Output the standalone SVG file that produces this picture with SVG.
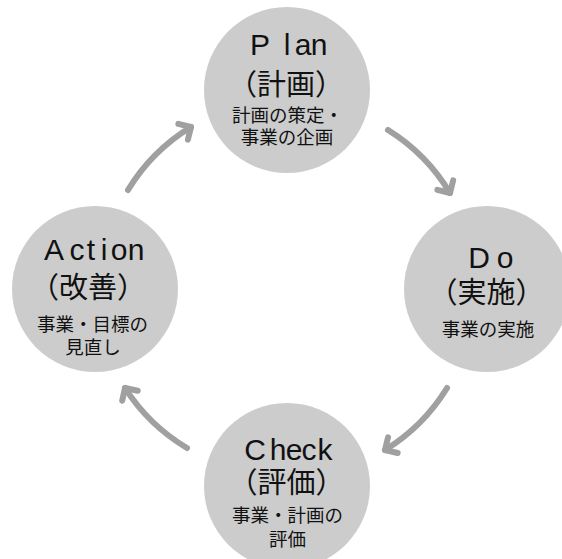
<svg xmlns="http://www.w3.org/2000/svg" width="562" height="559" viewBox="0 0 562 559">
<style>
.node circle{fill:#cccccc}
.t{font-family:"Noto Sans CJK JP","Noto Sans",sans-serif;fill:#111;text-anchor:middle}
.title{font-family:"Liberation Sans","Noto Sans CJK JP",sans-serif;font-size:30px}
.paren{font-size:29px}
.sub{font-size:18.5px}
.arrow{fill:none;stroke:#a0a0a0;stroke-width:6;stroke-linecap:round}
</style>
<defs>
<marker id="ah" markerUnits="userSpaceOnUse" markerWidth="30" markerHeight="30" viewBox="-15 -15 30 30" refX="0" refY="0" orient="auto" overflow="visible">
<path d="M-9.2,-9.2 L0,0 L-9.2,9.2" fill="none" stroke="#a0a0a0" stroke-width="6" stroke-linecap="round" stroke-linejoin="round"/>
</marker>
</defs>
<rect width="562" height="559" fill="#ffffff"/>
<g id="connectors">
<path class="arrow" d="M128,190 A188,188 0 0,1 191,127" marker-end="url(#ah)"/>
<path class="arrow" d="M388,130 A188,188 0 0,1 450,193" marker-end="url(#ah)"/>
<path class="arrow" d="M447,388 A188,188 0 0,1 385,450" marker-end="url(#ah)"/>
<path class="arrow" d="M187,448 A188,188 0 0,1 125,388" marker-end="url(#ah)"/>
</g>
<g id="plan" class="node">
<circle cx="287" cy="90" r="83"/>
<text class="t title" x="260 287 303 319" y="55">Plan</text>
<text class="t paren" x="286" y="95">（計画）</text>
<text class="t sub" x="287.5" y="122">計画の策定・</text>
<text class="t sub" x="287" y="144">事業の企画</text>
</g>
<g id="do" class="node">
<circle cx="487" cy="289" r="83"/>
<text class="t title" x="479 505" y="268">Do</text>
<text class="t paren" x="486.5" y="303">（実施）</text>
<text class="t sub" x="488" y="336">事業の実施</text>
</g>
<g id="check" class="node">
<circle cx="287" cy="486" r="83"/>
<text class="t title" x="255 278 294 309 325" y="460">Check</text>
<text class="t paren" x="286.5" y="493">（評価）</text>
<text class="t sub" x="287.5" y="522">事業・計画の</text>
<text class="t sub" x="287.5" y="546">評価</text>
</g>
<g id="action" class="node">
<circle cx="95" cy="289" r="83"/>
<text class="t title" x="54 77 91 104 119 136" y="260">Action</text>
<text class="t paren" x="88" y="298">（改善）</text>
<text class="t sub" x="92.5" y="331">事業・目標の</text>
<text class="t sub" x="93" y="354">見直し</text>
</g>
</svg>
